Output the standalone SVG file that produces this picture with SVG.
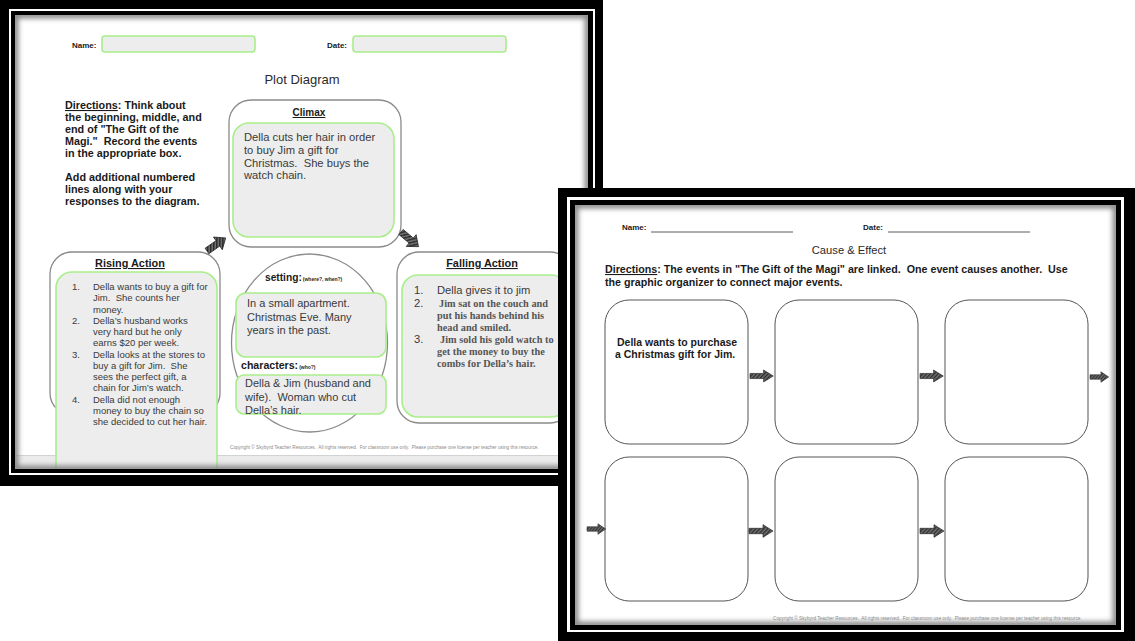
<svg xmlns="http://www.w3.org/2000/svg" xmlns:xlink="http://www.w3.org/1999/xlink" width="1135" height="641" viewBox="0 0 1135 641">
<defs>
<style>
.blk{fill:#000}
.wht{fill:#fff}
.outer{fill:#fff;stroke:#8a8a8a;stroke-width:1.3}
.green{fill:#ededed;stroke:#a8ee8a;stroke-width:1.6}
.hd{font-family:"Liberation Sans",Arial,sans-serif;font-weight:bold;fill:#1a1a1a}
.ttl{font-family:"Liberation Sans",Arial,sans-serif;fill:#2a2a2a;text-anchor:middle}
.body{font-family:"Liberation Sans",Arial,sans-serif;fill:#3a3a3a}
.serif{font-family:"Liberation Serif","Times New Roman",serif;fill:#555;font-weight:bold}
.box{fill:#fff;stroke:#555;stroke-width:1}
.arr{fill:url(#tex);stroke:#222;stroke-width:0.7}
.copy{font-family:"Liberation Sans",Arial,sans-serif;font-size:4.7px;fill:#8a8a8a}
.tiny{font-family:"Liberation Sans",Arial,sans-serif;font-weight:bold;font-size:5px;fill:#222}
.shadow{fill:none;stroke:#8a8a8a;stroke-width:7;filter:url(#blur)}
</style>
<filter id="blur" x="-10%" y="-10%" width="120%" height="120%"><feGaussianBlur stdDeviation="2.6"/></filter>
<clipPath id="clipL"><rect x="15" y="15" width="573" height="454"/></clipPath>
<clipPath id="clipR"><rect x="575" y="205" width="541" height="420"/></clipPath>
<pattern id="tex" width="3" height="3" patternUnits="userSpaceOnUse" patternTransform="rotate(40)">
<rect width="3" height="3" fill="#6e6e6e"/><rect width="1.3" height="3" fill="#2a2a2a"/>
</pattern>
<path id="ar" d="M0,-3 H14 V-7 L24,0 L14,7 V3 H0 Z"/>
</defs>

<g id="plot-sheet">
<rect class="blk" x="0" y="0" width="603" height="486"/>
<rect class="wht" x="9" y="9" width="586" height="466"/>
<rect class="blk" x="11" y="11" width="582" height="462"/>
<rect class="wht" x="15" y="15" width="573" height="454"/>
<g clip-path="url(#clipL)">
<rect x="15" y="455" width="573" height="14" fill="#ebebeb"/>
<line x1="15" y1="455.5" x2="588" y2="455.5" stroke="#d2d2d2" stroke-width="1"/>

<g id="name-field-left">
<text class="hd" x="72" y="48" font-size="8">Name:</text>
<rect class="green" x="102" y="36" width="153" height="16" rx="3"/>
</g>
<g id="date-field-left">
<text class="hd" x="327" y="48" font-size="8">Date:</text>
<rect class="green" x="353" y="36" width="153" height="16" rx="3"/>
</g>
<text class="ttl" x="302" y="84" font-size="13">Plot Diagram</text>

<g id="directions-left">
<text class="hd" font-size="10.8">
<tspan x="65" y="109"><tspan text-decoration="underline">Directions</tspan>: Think about</tspan>
<tspan x="65" y="121">the beginning, middle, and</tspan>
<tspan x="65" y="133">end of "The Gift of the</tspan>
<tspan x="65" y="145">Magi."&#160; Record the events</tspan>
<tspan x="65" y="157">in the appropriate box.</tspan>
<tspan x="65" y="181">Add additional numbered</tspan>
<tspan x="65" y="193">lines along with your</tspan>
<tspan x="65" y="205">responses to the diagram.</tspan>
</text>
</g>

<g id="climax">
<rect class="outer" x="229" y="100" width="172" height="147" rx="22"/>
<text class="hd" x="309" y="116" font-size="10" text-anchor="middle" text-decoration="underline">Climax</text>
<rect class="green" x="233" y="123" width="161" height="114" rx="16"/>
<text class="body" font-size="11.2">
<tspan x="244" y="141">Della cuts her hair in order</tspan>
<tspan x="244" y="154">to buy Jim a gift for</tspan>
<tspan x="244" y="166.5">Christmas.&#160; She buys the</tspan>
<tspan x="244" y="179">watch chain.</tspan>
</text>
</g>

<g id="rising-action">
<rect class="outer" x="50" y="252" width="170" height="163" rx="22"/>
<text class="hd" x="130" y="267" font-size="10.9" text-anchor="middle" text-decoration="underline">Rising Action</text>
<rect class="green" x="56" y="272" width="161" height="220" rx="16"/>
<text class="body" font-size="9.5">
<tspan x="72" y="290">1.</tspan><tspan x="93" y="290">Della wants to buy a gift for</tspan>
<tspan x="93" y="301.3">Jim.&#160; She counts her</tspan>
<tspan x="93" y="312.5">money.</tspan>
<tspan x="72" y="323.8">2.</tspan><tspan x="93" y="323.8">Della’s husband works</tspan>
<tspan x="93" y="335.1">very hard but he only</tspan>
<tspan x="93" y="346.4">earns $20 per week.</tspan>
<tspan x="72" y="357.6">3.</tspan><tspan x="93" y="357.6">Della looks at the stores to</tspan>
<tspan x="93" y="368.9">buy a gift for Jim.&#160; She</tspan>
<tspan x="93" y="380.2">sees the perfect gift, a</tspan>
<tspan x="93" y="391.4">chain for Jim’s watch.</tspan>
<tspan x="72" y="402.7">4.</tspan><tspan x="93" y="402.7">Della did not enough</tspan>
<tspan x="93" y="414">money to buy the chain so</tspan>
<tspan x="93" y="425.2">she decided to cut her hair.</tspan>
</text>
</g>

<g id="setting-characters">
<ellipse class="outer" cx="309.5" cy="343" rx="78" ry="89"/>
<text class="hd" x="265" y="281" font-size="10.2">setting:<tspan class="tiny" dx="1">(where?, when?)</tspan></text>
<rect class="green" x="236" y="293" width="150" height="64" rx="10"/>
<text class="body" font-size="11">
<tspan x="247" y="307">In a small apartment.</tspan>
<tspan x="247" y="321">Christmas Eve. Many</tspan>
<tspan x="247" y="334">years in the past.</tspan>
</text>
<text class="hd" x="241" y="369" font-size="10.6">characters:<tspan class="tiny" dx="1">(who?)</tspan></text>
<rect class="green" x="236" y="375" width="150" height="39" rx="8"/>
<text class="body" font-size="11">
<tspan x="245" y="387">Della &amp; Jim (husband and</tspan>
<tspan x="245" y="401">wife).&#160; Woman who cut</tspan>
<tspan x="245" y="414">Della’s hair.</tspan>
</text>
</g>

<g id="falling-action">
<rect class="outer" x="397" y="252" width="175" height="171" rx="22"/>
<text class="hd" x="482" y="267" font-size="10.9" text-anchor="middle" text-decoration="underline">Falling Action</text>
<rect class="green" x="402" y="275" width="165" height="142" rx="16"/>
<text class="body" font-size="11.2">
<tspan x="414" y="294">1.</tspan><tspan x="437" y="294">Della gives it to jim</tspan>
<tspan x="414" y="307">2.</tspan>
<tspan x="414" y="343">3.</tspan>
</text>
<text class="serif" font-size="10.3">
<tspan x="439" y="306.5">Jim sat on the couch and</tspan>
<tspan x="437" y="318.5">put his hands behind his</tspan>
<tspan x="437" y="330.5">head and smiled.</tspan>
<tspan x="440" y="342.5">Jim sold his gold watch to</tspan>
<tspan x="437" y="354.5">get the money to buy the</tspan>
<tspan x="437" y="366.5">combs for Della’s hair.</tspan>
</text>
</g>

<text class="copy" x="230" y="449">Copyright © Skybyrd Teacher Resources.&#160; All rights reserved.&#160; For classroom use only.&#160; Please purchase one license per teacher using this resource.</text>
<rect class="shadow" x="15" y="15" width="573" height="454"/>
</g>
</g>

<g id="cause-effect-sheet">
<rect class="blk" x="558" y="188" width="580" height="456"/>
<rect class="wht" x="567" y="197" width="557" height="435"/>
<rect class="blk" x="570" y="200" width="551" height="430"/>
<rect class="wht" x="575" y="205" width="541" height="420"/>
<g clip-path="url(#clipR)">
<g id="name-field-right">
<text class="hd" x="622" y="230" font-size="8">Name:</text>
<line x1="651" y1="232" x2="793" y2="232" stroke="#333" stroke-width="0.8"/>
</g>
<g id="date-field-right">
<text class="hd" x="863" y="230" font-size="8">Date:</text>
<line x1="888" y1="232" x2="1030" y2="232" stroke="#333" stroke-width="0.8"/>
</g>
<text class="ttl" x="849" y="254" font-size="11.2">Cause &amp; Effect</text>
<g id="directions-right">
<text class="hd" font-size="10.7">
<tspan x="605" y="273"><tspan text-decoration="underline">Directions</tspan>: The events in "The Gift of the Magi" are linked.&#160; One event causes another.&#160; Use</tspan>
<tspan x="605" y="286">the graphic organizer to connect major events.</tspan>
</text>
</g>

<g id="event-1">
<rect class="box" x="605" y="300" width="143" height="144" rx="24"/>
<text class="hd" font-size="10.5">
<tspan x="617" y="346">Della wants to purchase</tspan>
<tspan x="615" y="358">a Christmas gift for Jim.</tspan>
</text>
</g>
<g id="event-2"><rect class="box" x="775" y="300" width="143" height="144" rx="24"/></g>
<g id="event-3"><rect class="box" x="945" y="300" width="143" height="144" rx="24"/></g>
<g id="event-4"><rect class="box" x="605" y="457" width="143" height="144" rx="24"/></g>
<g id="event-5"><rect class="box" x="775" y="457" width="143" height="144" rx="24"/></g>
<g id="event-6"><rect class="box" x="945" y="457" width="143" height="144" rx="24"/></g>

<text class="copy" x="773" y="620">Copyright © Skybyrd Teacher Resources.&#160; All rights reserved.&#160; For classroom use only.&#160; Please purchase one license per teacher using this resource.</text>
<rect class="shadow" x="575" y="205" width="541" height="420"/>
</g>
</g>

<g id="connectors">
<use xlink:href="#ar" class="arr" transform="translate(207,251) rotate(-35) scale(0.95,1.1)"/>
<use xlink:href="#ar" class="arr" transform="translate(401,232) rotate(40) scale(0.95,1.1)"/>
<use xlink:href="#ar" class="arr" transform="translate(750,376) scale(0.97,0.85)"/>
<use xlink:href="#ar" class="arr" transform="translate(920,376) scale(0.97,0.85)"/>
<use xlink:href="#ar" class="arr" transform="translate(1090,377) scale(0.78,0.75)"/>
<use xlink:href="#ar" class="arr" transform="translate(587,529) scale(0.78,0.75)"/>
<use xlink:href="#ar" class="arr" transform="translate(749,531) scale(1,0.9)"/>
<use xlink:href="#ar" class="arr" transform="translate(920,531) scale(1,0.9)"/>
</g>
</svg>
